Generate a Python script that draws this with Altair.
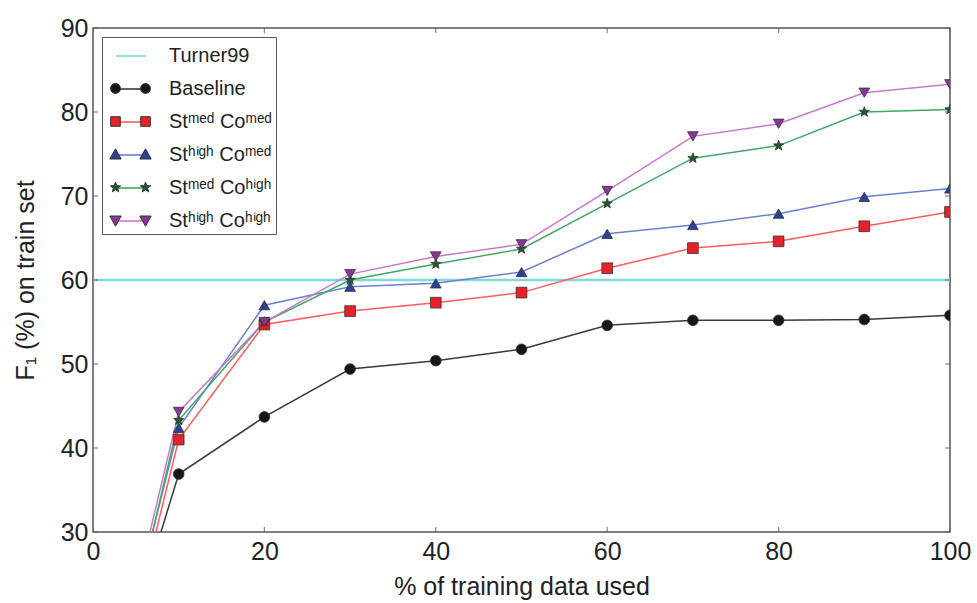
import altair as alt
import pandas as pd

# ---- data ----
x_pct = [1, 10, 20, 30, 40, 50, 60, 70, 80, 90, 100]
baseline = [6.9, 36.9, 43.7, 49.4, 50.4, 51.75, 54.6, 55.2, 55.2, 55.3, 55.8]
st_med_co_med = [3.8, 41.0, 54.7, 56.3, 57.3, 58.5, 61.4, 63.8, 64.6, 66.4, 68.1]
st_high_co_med = [5.8, 42.4, 57.0, 59.2, 59.6, 60.95, 65.5, 66.55, 67.9, 69.9, 70.9]
st_med_co_high = [4.1, 43.3, 55.0, 60.0, 61.9, 63.7, 69.1, 74.5, 76.0, 80.0, 80.3]
st_high_co_high = [5.9, 44.3, 55.0, 60.7, 62.8, 64.25, 70.6, 77.1, 78.6, 82.3, 83.3]
turner99 = 60.0

series_names = ["Turner99", "Baseline", "Stᵐᵉᵈ Coᵐᵉᵈ", "Stʰⁱᵍʰ Coᵐᵉᵈ",
                "Stᵐᵉᵈ Coʰⁱᵍʰ", "Stʰⁱᵍʰ Coʰⁱᵍʰ"]
x_ticks = [0, 20, 40, 60, 80, 100]
y_ticks = [30, 40, 50, 60, 70, 80, 90]
x_domain = [0, 100]
y_domain = [30, 90]

# ---- styles ----
line_colors = ["#80d8d8", "#3a3a3a", "#ff5c5c", "#6b80d0", "#40a865", "#c878cc"]
marker_fills = ["transparent", "#161616", "#e8202a", "#2c4296", "#1d5a30", "#8a3598"]
FONT = "Liberation Sans"
TXT = "#222222"
FRAME = "#555555"


def star_path(cx, r_out, r_in):
    import math
    pts = []
    for k in range(10):
        r = r_out if k % 2 == 0 else r_in
        a = math.radians(-90 + 36 * k)
        pts.append(f"{cx + r * math.cos(a):.3f},{r * math.sin(a):.3f}")
    return "M" + "L".join(pts) + "Z"


star_marker = star_path(0, 1.0, 0.42)
marker_shapes = ["circle", "circle", "square", "triangle-up", star_marker, "triangle-down"]


def pair(fn):
    return fn(-1) + " " + fn(1)


legend_shapes = [
    "M0,0",
    pair(lambda c: f"M{c-0.33},0A0.33,0.33 0 1,1 {c+0.33},0A0.33,0.33 0 1,1 {c-0.33},0Z"),
    pair(lambda c: f"M{c-0.32},-0.32H{c+0.32}V0.32H{c-0.32}Z"),
    pair(lambda c: f"M{c},-0.38L{c+0.38},0.3H{c-0.38}Z"),
    star_path(-1, 0.36, 0.15) + " " + star_path(1, 0.36, 0.15),
    pair(lambda c: f"M{c},0.38L{c+0.38},-0.3H{c-0.38}Z"),
]

rows = []
for name, vals in zip(series_names[1:], [baseline, st_med_co_med, st_high_co_med,
                                          st_med_co_high, st_high_co_high]):
    for x, v in zip(x_pct, vals):
        rows.append({"x": x, "f1": v, "series": name})
df = pd.DataFrame(rows)

xs = alt.Scale(domain=x_domain, nice=False, zero=False)
ys = alt.Scale(domain=y_domain, nice=False, zero=False)

X_TITLE = "% of training data used"
Y_TITLE = "F₁ (%) on train set"
x_axis = alt.Axis(values=x_ticks, ticks=False, domain=False, grid=False, format="d",
                  labelFont=FONT, labelFontSize=25, labelColor=TXT, labelPadding=7,
                  labelFlush=False, labelOverlap=False,
                  titleFont=FONT, titleFontSize=25,
                  titleFontWeight="normal", titleColor=TXT, titlePadding=10)
y_axis = alt.Axis(values=y_ticks, ticks=False, domain=False, grid=False, format="d",
                  labelFont=FONT, labelFontSize=25, labelColor=TXT, labelPadding=5,
                  labelFlush=False, labelOverlap=False,
                  titleFont=FONT, titleFontSize=25,
                  titleFontWeight="normal", titleColor=TXT, titlePadding=22)


def X(field):
    return alt.X(field, scale=xs, axis=x_axis, title=X_TITLE)


def Y(field):
    return alt.Y(field, scale=ys, axis=y_axis, title=Y_TITLE)


common_legend = dict(orient="none", legendX=9, legendY=9, title=None, padding=3,
                     rowPadding=7, symbolSize=900, symbolOffset=10, labelOffset=23,
                     labelFont=FONT, labelFontSize=20, labelColor=TXT, labelLimit=400)

rule = alt.Chart(pd.DataFrame({"f1": [turner99]})).mark_rule(
    color=line_colors[0], strokeWidth=2.5
).encode(y=Y("f1:Q"))

lines = alt.Chart(df).mark_line(strokeWidth=1.5, clip=True).encode(
    x=X("x:Q"),
    y=Y("f1:Q"),
    stroke=alt.Stroke("series:N", scale=alt.Scale(domain=series_names, range=line_colors),
                      legend=alt.Legend(symbolType="stroke", symbolStrokeWidth=1.6,
                                        strokeColor=FRAME, labelOpacity=0, **common_legend)),
    order=alt.Order("x:Q"),
)

points = alt.Chart(df).mark_point(filled=True, size=115, stroke="#333333", strokeWidth=0.8,
                                  opacity=1, clip=True).encode(
    x=X("x:Q"),
    y=Y("f1:Q"),
    fill=alt.Fill("series:N", scale=alt.Scale(domain=series_names, range=marker_fills), legend=None),
    shape=alt.Shape("series:N", scale=alt.Scale(domain=series_names, range=marker_shapes), legend=None),
)

tick_style = dict(color=FRAME, size=10, thickness=1.2, clip=True)
left_ticks = alt.Chart(pd.DataFrame({"v": y_ticks, "e": [x_domain[0]] * len(y_ticks)})).mark_tick(
    orient="horizontal", **tick_style).encode(x=X("e:Q"), y=Y("v:Q"))
right_ticks = alt.Chart(pd.DataFrame({"v": y_ticks, "e": [x_domain[1]] * len(y_ticks)})).mark_tick(
    orient="horizontal", **tick_style).encode(x=X("e:Q"), y=Y("v:Q"))
bottom_ticks = alt.Chart(pd.DataFrame({"v": x_ticks, "e": [y_domain[0]] * len(x_ticks)})).mark_tick(
    orient="vertical", **tick_style).encode(x=X("v:Q"), y=Y("e:Q"))
top_ticks = alt.Chart(pd.DataFrame({"v": x_ticks, "e": [y_domain[1]] * len(x_ticks)})).mark_tick(
    orient="vertical", **tick_style).encode(x=X("v:Q"), y=Y("e:Q"))

marker_legend = dict(symbolStrokeColor="#333333", symbolStrokeWidth=1, **common_legend)
legend_layer = alt.Chart(pd.DataFrame({"series": series_names})).transform_filter("false").mark_point(
    filled=True, opacity=1).encode(
    x=X("x:Q"),
    y=Y("y:Q"),
    color=alt.Color("series:N", scale=alt.Scale(domain=series_names, range=marker_fills),
                    legend=alt.Legend(**marker_legend)),
    shape=alt.Shape("series:N", scale=alt.Scale(domain=series_names, range=legend_shapes),
                    legend=alt.Legend(**marker_legend)),
)

chart = alt.layer(
    rule, lines, points, left_ticks, right_ticks, bottom_ticks, top_ticks, legend_layer
).resolve_scale(shape="independent").resolve_legend(
    color="independent", shape="independent"
).properties(
    width=857, height=504,
    autosize=alt.AutoSizeParams(type="none"),
    padding={"left": 93, "top": 28, "right": 27, "bottom": 71},
    background="white",
).configure_view(stroke=FRAME, strokeWidth=1.5)

chart.save("out.html", embed_options={"renderer": "svg", "actions": False})
